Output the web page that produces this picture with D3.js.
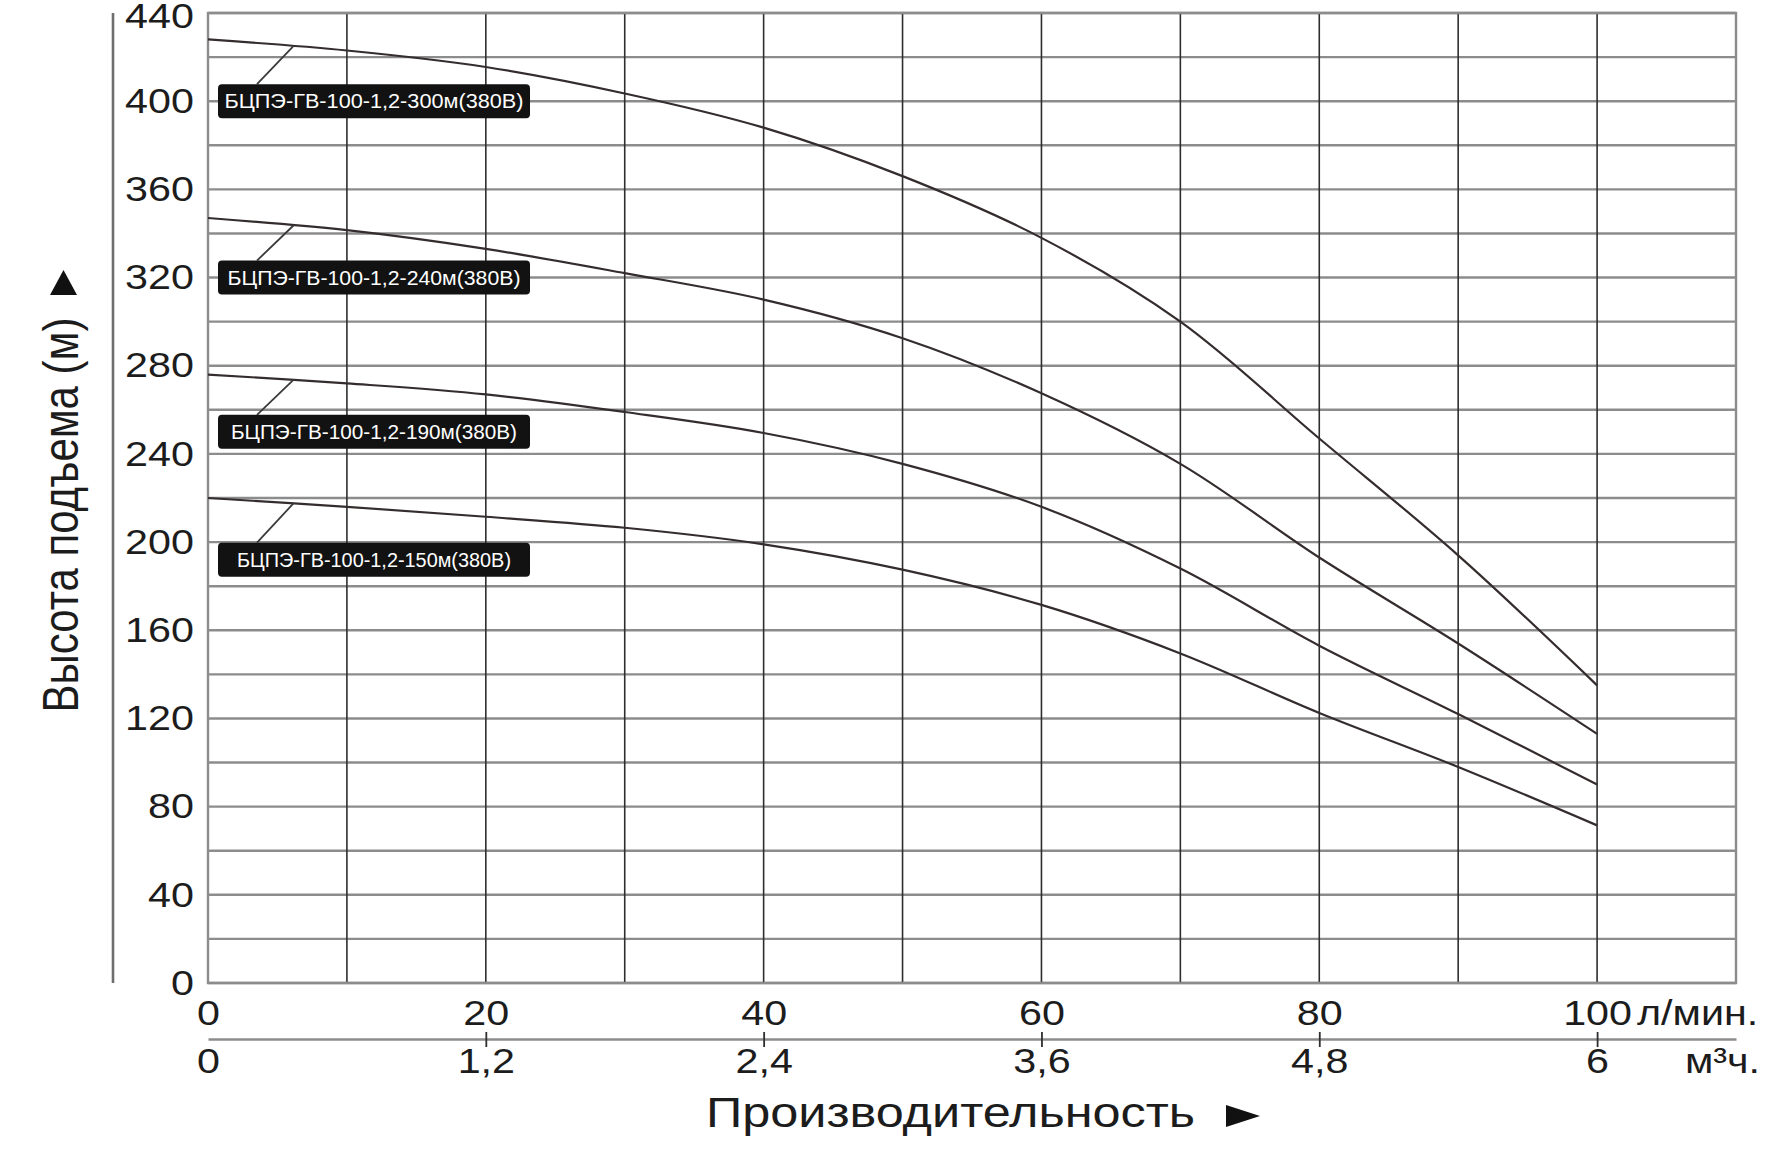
<!DOCTYPE html>
<html>
<head>
<meta charset="utf-8">
<script src="https://cdn.jsdelivr.net/npm/d3@7"></script>
<style>
  body { margin: 0; background: #fff; }
  svg { display: block; font-family: "Liberation Sans", Arial, sans-serif; }
</style>
</head>
<body>
<div id="chart"></div>
<script>
// flow, l/min
var flow = [0, 10, 20, 30, 40, 50, 60, 70, 80, 90, 100];
// head (m) for each pump model
var head300 = [428, 423, 415.5, 403.5, 388, 366, 338, 300, 247, 194, 135];
var head240 = [347, 341.5, 333, 322, 310, 292.5, 267.5, 235.5, 193, 154, 113];
var head190 = [276, 272, 267, 259, 249.5, 235.5, 216, 188, 153, 122, 90];
var head150 = [220, 216, 211.5, 206.5, 199, 187.5, 171.5, 149.5, 122.5, 98, 71.5];

var seriesNames = ["БЦПЭ-ГВ-100-1,2-300м(380В)", "БЦПЭ-ГВ-100-1,2-240м(380В)",
                   "БЦПЭ-ГВ-100-1,2-190м(380В)", "БЦПЭ-ГВ-100-1,2-150м(380В)"];
var labelHeads = [400, 320, 250, 192];   // where the black name tags sit
var leaderFlow = 6.15;                   // where the tag leader meets the curve

var yTickValues = [0, 40, 80, 120, 160, 200, 240, 280, 320, 360, 400, 440];
var xTickValues = [0, 20, 40, 60, 80, 100];
var m3hLabels = ["0", "1,2", "2,4", "3,6", "4,8", "6"];

var W = 1779, H = 1153;
var margin = {top: 13, right: 43, bottom: 170, left: 208};
var SX = 1.18; // text in the reference is stretched sideways

var svg = d3.select("#chart").append("svg")
  .attr("width", W).attr("height", H);

var xScale = d3.scaleLinear().domain([0, 110]).range([margin.left, W - margin.right]);
var yScale = d3.scaleLinear().domain([0, 440]).range([H - margin.bottom, margin.top]);

//grid
var grid = svg.append("g");
grid.selectAll(".hline")
  .data(d3.range(0, 441, 20))
  .enter().append("line")
  .attr("x1", xScale(0)).attr("x2", xScale(110))
  .attr("y1", function(d){ return yScale(d); })
  .attr("y2", function(d){ return yScale(d); })
  .attr("stroke", "#8c8c8c").attr("stroke-width", 2.4);

grid.selectAll(".vline")
  .data(d3.range(10, 110, 10))
  .enter().append("line")
  .attr("y1", yScale(0)).attr("y2", yScale(440))
  .attr("x1", function(d){ return xScale(d); })
  .attr("x2", function(d){ return xScale(d); })
  .attr("stroke", "#2e2e2e").attr("stroke-width", 1.6);

// frame
grid.append("rect")
  .attr("x", xScale(0)).attr("y", yScale(440))
  .attr("width", xScale(110) - xScale(0)).attr("height", yScale(0) - yScale(440))
  .attr("fill", "none").attr("stroke", "#8c8c8c").attr("stroke-width", 2.4);

// left spine
svg.append("line")
  .attr("x1", 113).attr("x2", 113)
  .attr("y1", yScale(440)).attr("y2", yScale(0))
  .attr("stroke", "#6e6e6e").attr("stroke-width", 2.6);

// curves
var allHeads = [head300, head240, head190, head150];
var line = d3.line()
  .x(function(d, i){ return xScale(flow[i]); })
  .y(function(d){ return yScale(d); })
  .curve(d3.curveCatmullRom.alpha(0.5));

svg.append("g").selectAll("path")
  .data(allHeads)
  .enter().append("path")
  .attr("d", line)
  .attr("fill", "none")
  .attr("stroke", "#352d2d")
  .attr("stroke-width", 2.2);

// name tags
var tagW = 312, tagH = 34;
var tagTextW = [299, 293, 286, 274];
var tags = svg.append("g").selectAll("g")
  .data(seriesNames)
  .enter().append("g");

tags.append("line")
  .attr("x1", xScale(0) + 49)
  .attr("y1", function(d, i){ return yScale(labelHeads[i]) - tagH / 2; })
  .attr("x2", xScale(leaderFlow))
  .attr("y2", function(d, i){
    var h = allHeads[i];
    var t = (leaderFlow - flow[0]) / (flow[1] - flow[0]);
    return yScale(h[0] + (h[1] - h[0]) * t);
  })
  .attr("stroke", "#3a3a3a").attr("stroke-width", 1.8);

tags.append("rect")
  .attr("x", xScale(0) + 10)
  .attr("y", function(d, i){ return yScale(labelHeads[i]) - tagH / 2; })
  .attr("width", tagW).attr("height", tagH)
  .attr("rx", 4)
  .attr("fill", "#121212");

tags.append("text")
  .attr("x", xScale(0) + 10 + tagW / 2)
  .attr("y", function(d, i){ return yScale(labelHeads[i]) + 7; })
  .attr("text-anchor", "middle")
  .attr("textLength", function(d, i){ return tagTextW[i]; })
  .attr("lengthAdjust", "spacingAndGlyphs")
  .attr("fill", "#fff")
  .style("font-size", "20.5px")
  .text(function(d){ return d; });

// y axis labels
var yAxis = d3.axisLeft(yScale).tickValues(yTickValues).tickSize(0).tickPadding(0);
var yAxisGroup = svg.append("g").attr("transform", "translate(194,0)").call(yAxis);
yAxisGroup.select(".domain").remove();
yAxisGroup.selectAll("text")
  .attr("x", 0)
  .attr("dy", function(d){ return d == 440 ? "0.42em" : "0.32em"; })
  .attr("transform", "scale(" + SX + ",1)")
  .attr("fill", "#1c1c1c")
  .style("font-size", "35px")
  .style("font-family", "'Liberation Sans', Arial, sans-serif");

// x axis, l/min
var xAxisTop = d3.axisBottom(xScale).tickValues(xTickValues).tickSize(0).tickPadding(0);
var xTopGroup = svg.append("g").attr("transform", "translate(0,1025)").call(xAxisTop);
xTopGroup.select(".domain").remove();
xTopGroup.selectAll("text")
  .attr("y", 0).attr("dy", 0)
  .attr("transform", "scale(" + SX + ",1)")
  .attr("fill", "#1c1c1c")
  .style("font-size", "35px")
  .style("font-family", "'Liberation Sans', Arial, sans-serif");

// x axis, m3/h
var xAxisBottom = d3.axisBottom(xScale).tickValues(xTickValues).tickSizeInner(8).tickSizeOuter(0)
  .tickPadding(0)
  .tickFormat(function(d, i){ return m3hLabels[i]; });
var xBotGroup = svg.append("g").attr("transform", "translate(0,1039)").call(xAxisBottom);
xBotGroup.select(".domain").attr("stroke", "#8c8c8c").attr("stroke-width", 2.4);
xBotGroup.selectAll(".tick line")
  .attr("y1", -7).attr("y2", 8)
  .attr("stroke", "#2e2e2e").attr("stroke-width", 1.8)
  .filter(function(d){ return d == 0; }).remove();
xBotGroup.selectAll("text")
  .attr("y", 34).attr("dy", 0)
  .attr("transform", "scale(" + SX + ",1)")
  .attr("fill", "#1c1c1c")
  .style("font-size", "35px")
  .style("font-family", "'Liberation Sans', Arial, sans-serif");

// units
svg.append("text")
  .attr("transform", "translate(1637,1025) scale(" + SX + ",1)")
  .attr("fill", "#1c1c1c").style("font-size", "35px")
  .text("л/мин.");
svg.append("text")
  .attr("transform", "translate(1760,1073) scale(" + SX + ",1)")
  .attr("text-anchor", "end")
  .attr("fill", "#1c1c1c").style("font-size", "35px")
  .text("м³ч.");

// axis titles
svg.append("text")
  .attr("transform", "translate(78,515) scale(1.2,1) rotate(-90)")
  .attr("text-anchor", "middle")
  .attr("fill", "#1c1c1c").style("font-size", "42px")
  .text("Высота подъема (м)");
svg.append("path")
  .attr("d", "M63.5,270 L77,295 L50,295 Z")
  .attr("fill", "#111");

svg.append("text")
  .attr("transform", "translate(706,1127) scale(1.2,1)")
  .attr("fill", "#1c1c1c").style("font-size", "42px")
  .text("Производительность");
svg.append("path")
  .attr("d", "M1226,1105 L1260,1116 L1226,1127 Z")
  .attr("fill", "#111");
</script>
</body>
</html>
